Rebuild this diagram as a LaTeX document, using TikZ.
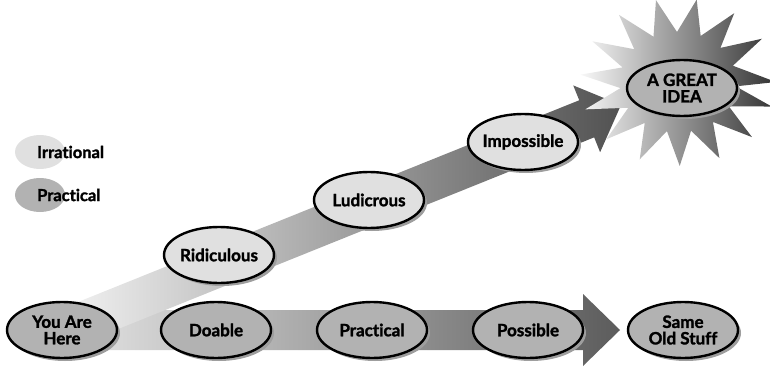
\documentclass[tikz,border=0pt]{standalone}
\usepackage{fontspec}
\setmainfont{Lato}[Ligatures={NoCommon,NoRare}, BoldFeatures={FakeBold=1.6}]
\usetikzlibrary{shapes.geometric,shadows,calc}

\tikzset{
  stage/.style={ellipse, draw=black, line width=2.4pt, minimum width=110pt, minimum height=56pt,
    inner xsep=-16pt, inner ysep=-4pt, align=center,
    font=\bfseries\fontsize{17}{16.5}\selectfont,
    drop shadow={shadow xshift=3pt, shadow yshift=-3pt, fill=black!38, opacity=1}},
  practical/.style={stage, fill=black!30},
  irrational/.style={stage, fill=black!12},
  keydot/.style={ellipse, minimum width=50pt, minimum height=34pt, inner sep=0pt},
  keytext/.style={anchor=west, inner sep=0pt, font=\bfseries\fontsize{16.5}{16.5}\selectfont}
}

\begin{document}
\begin{tikzpicture}[x=1pt, y=1pt]
\useasboundingbox (0,0) rectangle (770,370);
\coordinate (bottip) at (620,40);
\coordinate (diagtip) at (621,265);
\coordinate (here0) at (62,40);
\coordinate (botbase) at ($(bottip)!37pt!(here0)$);
\coordinate (diagbase) at ($(diagtip)!37pt!(here0)$);
\shade[left color=black!10, right color=black!64]
  ($(here0)!20pt!-90:(bottip)$) -- ($(botbase)!20pt!90:(here0)$) -- ($(botbase)!36pt!90:(here0)$) -- (bottip)
  -- ($(botbase)!36pt!-90:(here0)$) -- ($(botbase)!20pt!-90:(here0)$) -- ($(here0)!20pt!90:(bottip)$) -- cycle;
\shade[left color=black!4, right color=black!68]
  ($(here0)!20pt!-90:(diagtip)$) -- ($(diagbase)!20pt!90:(here0)$) -- ($(diagbase)!36pt!90:(here0)$) -- (diagtip)
  -- ($(diagbase)!36pt!-90:(here0)$) -- ($(diagbase)!20pt!-90:(here0)$) -- ($(here0)!20pt!90:(diagtip)$) -- cycle;
\shade[left color=black!3, right color=black!80]
  (678,288) ++(0:98 and 80) \foreach \i in {1,...,29} {-- ($(678,288)+({\i*360/30+7}:{ifthenelse(mod(\i,2)==0,98,58)} and {ifthenelse(mod(\i,2)==0,84,50)})$)} -- cycle;
\node[keydot, fill=black!12] (keyirr) at (40,218){};
\node[keytext] (irrtext) at (37,218){Irrational};
\node[keydot, fill=black!30] (keyprac) at (40,175){};
\node[keytext] (practext) at (37,175){Practical};
\node[practical] (here) at (here0){You Are\\Here};
\node[practical] (doable) at (216,40){Doable};
\node[practical] (practical) at (372,40){Practical};
\node[practical] (possible) at (528,40){Possible};
\node[practical] (same) at (683,40){Same\\Old Stuff};
\node[irrational] (ridiculous) at (219,115){Ridiculous};
\node[irrational] (ludicrous) at (369,170){Ludicrous};
\node[irrational] (impossible) at (523,228){Impossible};
\node[practical] (idea) at (682,282){A GREAT\\IDEA};
\end{tikzpicture}
\end{document}
